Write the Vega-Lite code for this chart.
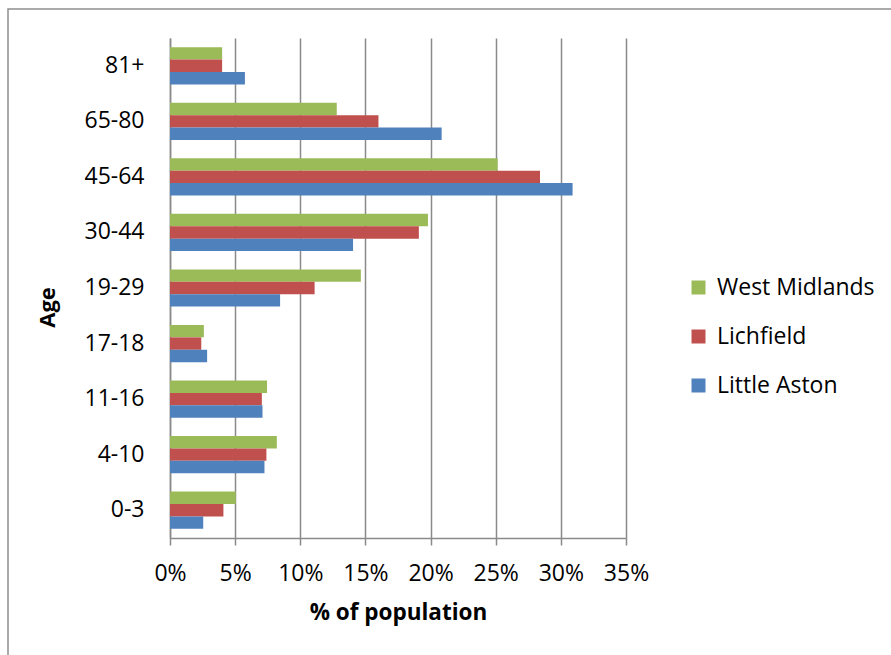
{
  "$schema": "https://vega.github.io/schema/vega-lite/v6.json",
  "autosize": "none",
  "padding": {"left": 8, "top": 9, "right": 0, "bottom": 0},
  "width": 890,
  "height": 650,
  "background": "white",
  "config": {
    "font": "Open Sans",
    "view": {"stroke": "#8f8f8f", "strokeWidth": 1.5},
    "axis": {"labelColor": "#000000", "titleColor": "#000000", "labelFont": "Open Sans", "titleFont": "Open Sans"}
  },
  "data": {
    "values": [
      {"age": "81+", "area": "West Midlands", "share": 0.04},
      {"age": "81+", "area": "Lichfield", "share": 0.04},
      {"age": "81+", "area": "Little Aston", "share": 0.0575},
      {"age": "65-80", "area": "West Midlands", "share": 0.128},
      {"age": "65-80", "area": "Lichfield", "share": 0.16},
      {"age": "65-80", "area": "Little Aston", "share": 0.2085},
      {"age": "45-64", "area": "West Midlands", "share": 0.2515},
      {"age": "45-64", "area": "Lichfield", "share": 0.284},
      {"age": "45-64", "area": "Little Aston", "share": 0.309},
      {"age": "30-44", "area": "West Midlands", "share": 0.198},
      {"age": "30-44", "area": "Lichfield", "share": 0.191},
      {"age": "30-44", "area": "Little Aston", "share": 0.1405},
      {"age": "19-29", "area": "West Midlands", "share": 0.1465},
      {"age": "19-29", "area": "Lichfield", "share": 0.111},
      {"age": "19-29", "area": "Little Aston", "share": 0.0845},
      {"age": "17-18", "area": "West Midlands", "share": 0.026},
      {"age": "17-18", "area": "Lichfield", "share": 0.024},
      {"age": "17-18", "area": "Little Aston", "share": 0.0285},
      {"age": "11-16", "area": "West Midlands", "share": 0.0745},
      {"age": "11-16", "area": "Lichfield", "share": 0.0705},
      {"age": "11-16", "area": "Little Aston", "share": 0.071},
      {"age": "4-10", "area": "West Midlands", "share": 0.082},
      {"age": "4-10", "area": "Lichfield", "share": 0.074},
      {"age": "4-10", "area": "Little Aston", "share": 0.0725},
      {"age": "0-3", "area": "West Midlands", "share": 0.0505},
      {"age": "0-3", "area": "Lichfield", "share": 0.041},
      {"age": "0-3", "area": "Little Aston", "share": 0.0255}
    ]
  },
  "layer": [
    {
      "mark": {"type": "bar"},
      "encoding": {
        "y": {
          "field": "age",
          "type": "nominal",
          "title": "Age",
          "scale": {
            "domain": ["81+", "65-80", "45-64", "30-44", "19-29", "17-18", "11-16", "4-10", "0-3"],
            "range": [29, 529],
            "paddingInner": 0.33,
            "paddingOuter": 0.165
          },
          "axis": {
            "orient": "left",
            "offset": -162,
            "ticks": false,
            "grid": false,
            "domainColor": "#8a8a8a",
            "domainWidth": 1.5,
            "labelFontSize": 23,
            "labelPadding": 26,
            "labelAlign": "right",
            "labelBaseline": "middle",
            "titleFontSize": 22,
            "titleFontWeight": "bold",
            "titleAngle": -90,
            "titleAlign": "center",
            "titleBaseline": "middle",
            "titleX": -123,
            "titleY": 298
          }
        },
        "yOffset": {
          "field": "area",
          "type": "nominal",
          "scale": {"domain": ["West Midlands", "Lichfield", "Little Aston"], "paddingInner": 0, "paddingOuter": 0}
        },
        "x": {
          "field": "share",
          "type": "quantitative",
          "scale": {"domain": [0, 0.35], "range": [162, 618], "nice": false},
          "axis": {
            "title": "% of population",
            "orient": "bottom",
            "offset": -121,
            "values": [0, 0.05, 0.1, 0.15, 0.2, 0.25, 0.3, 0.35],
            "format": ".0%",
            "grid": false,
            "domainColor": "#8a8a8a",
            "domainWidth": 1.5,
            "tickColor": "#8a8a8a",
            "tickWidth": 1.5,
            "tickSize": 7,
            "labelFontSize": 23,
            "labelBaseline": "alphabetic",
            "labelPadding": 35,
            "labelFlush": false,
            "titleFontSize": 22.5,
            "titleFontWeight": "bold",
            "titleBaseline": "alphabetic",
            "titleY": 81
          }
        },
        "color": {
          "field": "area",
          "type": "nominal",
          "scale": {
            "domain": ["West Midlands", "Lichfield", "Little Aston"],
            "range": ["#9BBB59", "#C0504D", "#4F81BD"]
          },
          "legend": {
            "title": null,
            "orient": "none",
            "legendX": 679,
            "legendY": 267,
            "padding": 0,
            "symbolType": "square",
            "symbolSize": 196,
            "symbolStrokeWidth": 0,
            "labelFontSize": 23,
            "labelColor": "#000000",
            "labelOffset": 7,
            "rowPadding": 25
          }
        }
      }
    },
    {
      "transform": [{"filter": "false"}],
      "mark": {"type": "bar"},
      "encoding": {
        "y": {"field": "age", "type": "nominal", "title": "Age"},
        "x": {
          "field": "share",
          "type": "quantitative",
          "axis": {
            "orient": "top",
            "offset": -29,
            "title": null,
            "values": [0, 0.05, 0.1, 0.15, 0.2, 0.25, 0.3, 0.35],
            "grid": true,
            "gridColor": "#8a8a8a",
            "gridWidth": 1.5,
            "labels": false,
            "ticks": false,
            "domain": false
          }
        }
      }
    }
  ],
  "resolve": {"axis": {"x": "independent"}}
}
